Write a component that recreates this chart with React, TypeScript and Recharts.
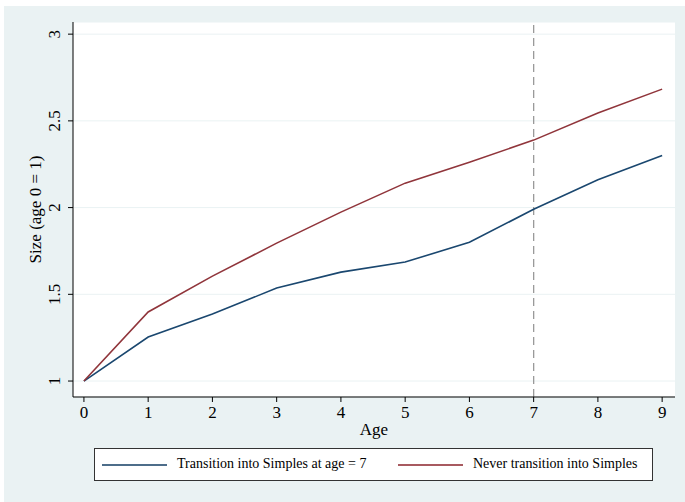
import { LineChart, Line, XAxis, YAxis, CartesianGrid, ReferenceLine } from "recharts";

const ages = [0, 1, 2, 3, 4, 5, 6, 7, 8, 9];
const transitionAt7 = [1, 1.254, 1.386, 1.536, 1.628, 1.686, 1.8, 1.99, 2.16, 2.3];
const neverTransition = [1, 1.398, 1.605, 1.795, 1.974, 2.141, 2.262, 2.389, 2.545, 2.683];
const yTicks = [1, 1.5, 2, 2.5, 3];
const xTicks = [0, 1, 2, 3, 4, 5, 6, 7, 8, 9];
const transitionAge = 7;

const seriesNames = ["Transition into Simples at age = 7", "Never transition into Simples"];
const BLUE = "#1a476f";
const RED = "#90353b";
const FONT = "'Liberation Serif', 'DejaVu Serif', serif";

const data = ages.map((a, i) => ({
  age: a,
  transition: transitionAt7[i],
  never: neverTransition[i],
}));

const YTick = (props: any) => {
  const { x, y, payload } = props;
  const tx = x - 6;
  return (
    <text
      x={tx}
      y={y}
      transform={`rotate(-90, ${tx}, ${y})`}
      textAnchor="middle"
      fontSize={17}
      fontFamily={FONT}
      fill="#000"
    >
      {String(payload.value)}
    </text>
  );
};

const XTick = (props: any) => {
  const { x, y, payload } = props;
  return (
    <text x={x} y={y + 14} textAnchor="middle" fontSize={17} fontFamily={FONT} fill="#000">
      {String(payload.value)}
    </text>
  );
};

export default function App() {
  return (
    <div style={{ position: "absolute", left: 0, top: 0, width: 685, height: 502, background: "#fff" }}>
      <div
        style={{
          position: "absolute",
          left: 4,
          top: 6,
          width: 681,
          height: 496,
          background: "#eaf2f3",
        }}
      />
      <div style={{ position: "absolute", left: 0, top: 0 }}>
        <LineChart width={685} height={502} data={data} margin={{ top: 22, right: 10, bottom: 0, left: 0 }}>
          <CartesianGrid vertical={false} stroke="#eaf2f3" fill="#ffffff" fillOpacity={1} />
          <XAxis
            dataKey="age"
            type="number"
            domain={[-0.17, 9.2]}
            ticks={xTicks}
            allowDataOverflow
            height={105}
            stroke="#000"
            tickSize={5}
            tick={<XTick />}
            label={{
              value: "Age",
              position: "insideTop",
              offset: 26,
              fontSize: 17,
              fontFamily: FONT,
              fill: "#000",
            }}
          />
          <YAxis
            type="number"
            domain={[0.908, 3.07]}
            ticks={yTicks}
            allowDataOverflow
            width={73}
            stroke="#000"
            tickSize={5}
            tick={<YTick />}
            label={({ viewBox }: any) => {
              const cx = 35;
              const cy = viewBox.y + viewBox.height / 2;
              return (
                <text
                  x={cx}
                  y={cy}
                  transform={`rotate(-90, ${cx}, ${cy})`}
                  textAnchor="middle"
                  dominantBaseline="central"
                  fontSize={17}
                  fontFamily={FONT}
                  fill="#000"
                >
                  Size (age 0 = 1)
                </text>
              );
            }}
          />
          <ReferenceLine x={transitionAge} stroke="#9a9a9a" strokeWidth={1.3} strokeDasharray="8 5" />
          <Line
            dataKey="transition"
            name={seriesNames[0]}
            stroke={BLUE}
            strokeWidth={1.6}
            dot={false}
            isAnimationActive={false}
          />
          <Line
            dataKey="never"
            name={seriesNames[1]}
            stroke={RED}
            strokeWidth={1.6}
            dot={false}
            isAnimationActive={false}
          />
        </LineChart>
      </div>
      <div
        style={{
          position: "absolute",
          left: 94,
          top: 448,
          width: 557,
          height: 31,
          background: "#fff",
          border: "1px solid #333",
          fontFamily: FONT,
          fontSize: 14,
          color: "#000",
        }}
      >
        <span style={{ position: "absolute", left: 7, top: 15, width: 65, height: 2, background: "#4d6d8a" }} />
        <span style={{ position: "absolute", left: 82, top: 7, whiteSpace: "nowrap" }}>{seriesNames[0]}</span>
        <span style={{ position: "absolute", left: 303, top: 15, width: 65, height: 2, background: "#a85a60" }} />
        <span style={{ position: "absolute", left: 378, top: 7, whiteSpace: "nowrap" }}>{seriesNames[1]}</span>
      </div>
    </div>
  );
}
